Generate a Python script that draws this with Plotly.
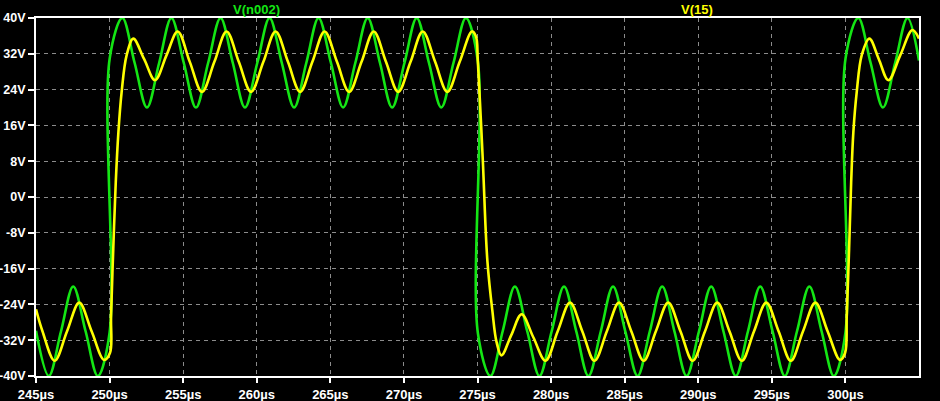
import plotly.graph_objects as go

# V(n002) key points (time in µs, voltage in V)
g_t = [245.00, 245.87, 246.70, 247.53, 248.37, 249.20, 250.00,
       250.01, 250.87, 251.70, 252.54, 253.37, 254.20, 255.04, 255.87, 256.70,
       257.54, 258.37, 259.20, 260.04, 260.87, 261.70, 262.54, 263.37,
       264.20, 265.04, 265.87, 266.70, 267.54, 268.37, 269.20, 270.04,
       270.87, 271.70, 272.54, 273.37, 274.21, 275.02,
       275.03, 275.88, 276.71, 277.54, 278.38, 279.21, 280.04, 280.88, 281.71,
       282.54, 283.38, 284.21, 285.04, 285.88, 286.71, 287.55, 288.38,
       289.21, 290.05, 290.88, 291.71, 292.55, 293.38, 294.21, 295.05,
       295.88, 296.71, 297.55, 298.38, 299.21, 300.00,
       300.01, 300.88, 301.71, 302.55, 303.38, 304.22, 305.00]
g_v = [-29.9, -40, -30, -20, -30, -40, -30.3,
       31, 40, 30, 20, 30, 40, 30, 20, 30,
       40, 30, 20, 30, 40, 30, 20, 30,
       40, 30, 20, 30, 40, 30, 20, 30,
       40, 30, 20, 30, 40, 30.4,
       -30.5, -40, -30, -20, -30, -40, -30, -20, -30,
       -40, -30, -20, -30, -40, -30, -20, -30,
       -40, -30, -20, -30, -40, -30, -20, -30,
       -40, -30, -20, -30, -40, -30.3,
       31, 40, 30, 20, 30, 40, 30.5]

# V(15) key points
y_t = [245.00, 245.44, 246.27, 247.11, 247.94, 248.78, 249.62,
       250.03, 250.10, 250.25, 250.42, 250.60, 250.82, 251.16, 251.61,
       252.35, 253.09, 253.87, 254.63, 255.45, 256.28, 257.12, 257.95,
       258.78, 259.61, 260.45, 261.28, 262.12, 262.95, 263.78, 264.61,
       265.45, 266.28, 267.12, 267.95, 268.78, 269.61, 270.45, 271.28,
       272.12, 272.95, 273.79, 274.62, 274.90,
       275.02, 275.36, 275.67, 276.01, 276.30, 276.63, 277.30, 278.00,
       278.80, 279.62, 280.45, 281.29, 282.12, 282.95, 283.79, 284.62,
       285.45, 286.29, 287.12, 287.96, 288.79, 289.62, 290.46, 291.29,
       292.12, 292.96, 293.79, 294.62, 295.46, 296.29, 297.12, 297.96,
       298.79, 299.63,
       299.98, 300.09, 300.25, 300.39, 300.54, 300.77, 301.11, 301.63,
       302.27, 302.92, 303.73, 304.55, 305.00]
y_v = [-25.1, -30.0, -36.6, -30.0, -23.6, -30.0, -36.4,
       -34.8, -26.6, -11.6, 3.3, 14.5, 23.5, 31.7, 35.4,
       30.8, 26.1, 31.7, 37.0, 30.2, 23.5, 30.2, 37.0,
       30.2, 23.5, 30.2, 37.0, 30.2, 23.5, 30.2, 37.0,
       30.2, 23.5, 30.2, 37.0, 30.2, 23.5, 30.2, 37.0,
       30.2, 23.5, 30.2, 37.0, 35.8,
       30.6, 8.2, -14.2, -25.4, -32.5, -35.4, -30.8, -26.2,
       -31.4, -36.6, -30.0, -23.6, -30.0, -36.6, -30.0, -23.6,
       -30.0, -36.6, -30.0, -23.6, -30.0, -36.6, -30.0, -23.6,
       -30.0, -36.6, -30.0, -23.6, -30.0, -36.6, -30.0, -23.6,
       -30.0, -36.4,
       -34.8, -26.6, -11.6, 3.3, 14.5, 23.5, 31.7, 35.4,
       30.8, 26.1, 31.7, 37.3, 35.4]

x_ticks = [245, 250, 255, 260, 265, 270, 275, 280, 285, 290, 295, 300]
x_labels = ["245µs", "250µs", "255µs", "260µs", "265µs", "270µs",
            "275µs", "280µs", "285µs", "290µs", "295µs", "300µs"]
y_ticks = [-40, -32, -24, -16, -8, 0, 8, 16, 24, 32, 40]
y_labels = ["-40V", "-32V", "-24V", "-16V", "-8V", "0V",
            "8V", "16V", "24V", "32V", "40V"]

GREEN = "#14e614"
YELLOW = "#ffff00"
FAM = "Liberation Sans, Arial, sans-serif"

fig = go.Figure()
fig.add_trace(go.Scatter(x=g_t, y=g_v, mode="lines", name="V(n002)",
                         line=dict(color=GREEN, width=2.6, shape="spline", smoothing=1.0)))
fig.add_trace(go.Scatter(x=y_t, y=y_v, mode="lines", name="V(15)",
                         line=dict(color=YELLOW, width=2.6, shape="spline", smoothing=1.0)))

font = dict(family=FAM, size=13, color="white", weight="bold")
yfont = dict(family=FAM, size=12.5, color="white", weight="bold")

L, R, T, B = 36, 21, 18, 25
fig.update_layout(
    width=940, height=401,
    paper_bgcolor="black", plot_bgcolor="black",
    margin=dict(l=L, r=R, t=T, b=B, autoexpand=False),
    showlegend=False,
    font=font,
    xaxis=dict(range=[245, 305], tickvals=x_ticks, ticktext=x_labels,
               showline=True, mirror=True, linecolor="white", linewidth=2,
               ticks="outside", ticklen=5, tickwidth=2, tickcolor="white",
               showgrid=True, gridcolor="#8c8c8c", griddash="4px,4px", gridwidth=1,
               zeroline=False, tickfont=font, automargin=False),
    yaxis=dict(range=[-40, 40], tickvals=y_ticks, ticktext=y_labels,
               showline=True, mirror=True, linecolor="white", linewidth=2,
               ticks="outside", ticklen=6, tickwidth=2, tickcolor="white",
               showgrid=True, gridcolor="#8c8c8c", griddash="4px,4px", gridwidth=1,
               zeroline=False, tickfont=yfont, automargin=False),
)

pw = 940 - L - R
ph = 401 - T - B
def ann(text, px, py, color):
    fig.add_annotation(text=text, x=(px - L) / pw, y=(401 - B - py) / ph,
                       xref="paper", yref="paper", showarrow=False,
                       xanchor="center", yanchor="middle",
                       font=dict(family=FAM, size=13, color=color, weight="bold"))

ann("V(n002)", 256, 9, GREEN)
ann("V(15)", 697, 9, YELLOW)

fig.write_html("out.html",
               config={"displayModeBar": False},
               post_script="document.body.style.margin='0';"
                           "document.body.style.background='black';"
                           "document.body.style.overflow='hidden';")
